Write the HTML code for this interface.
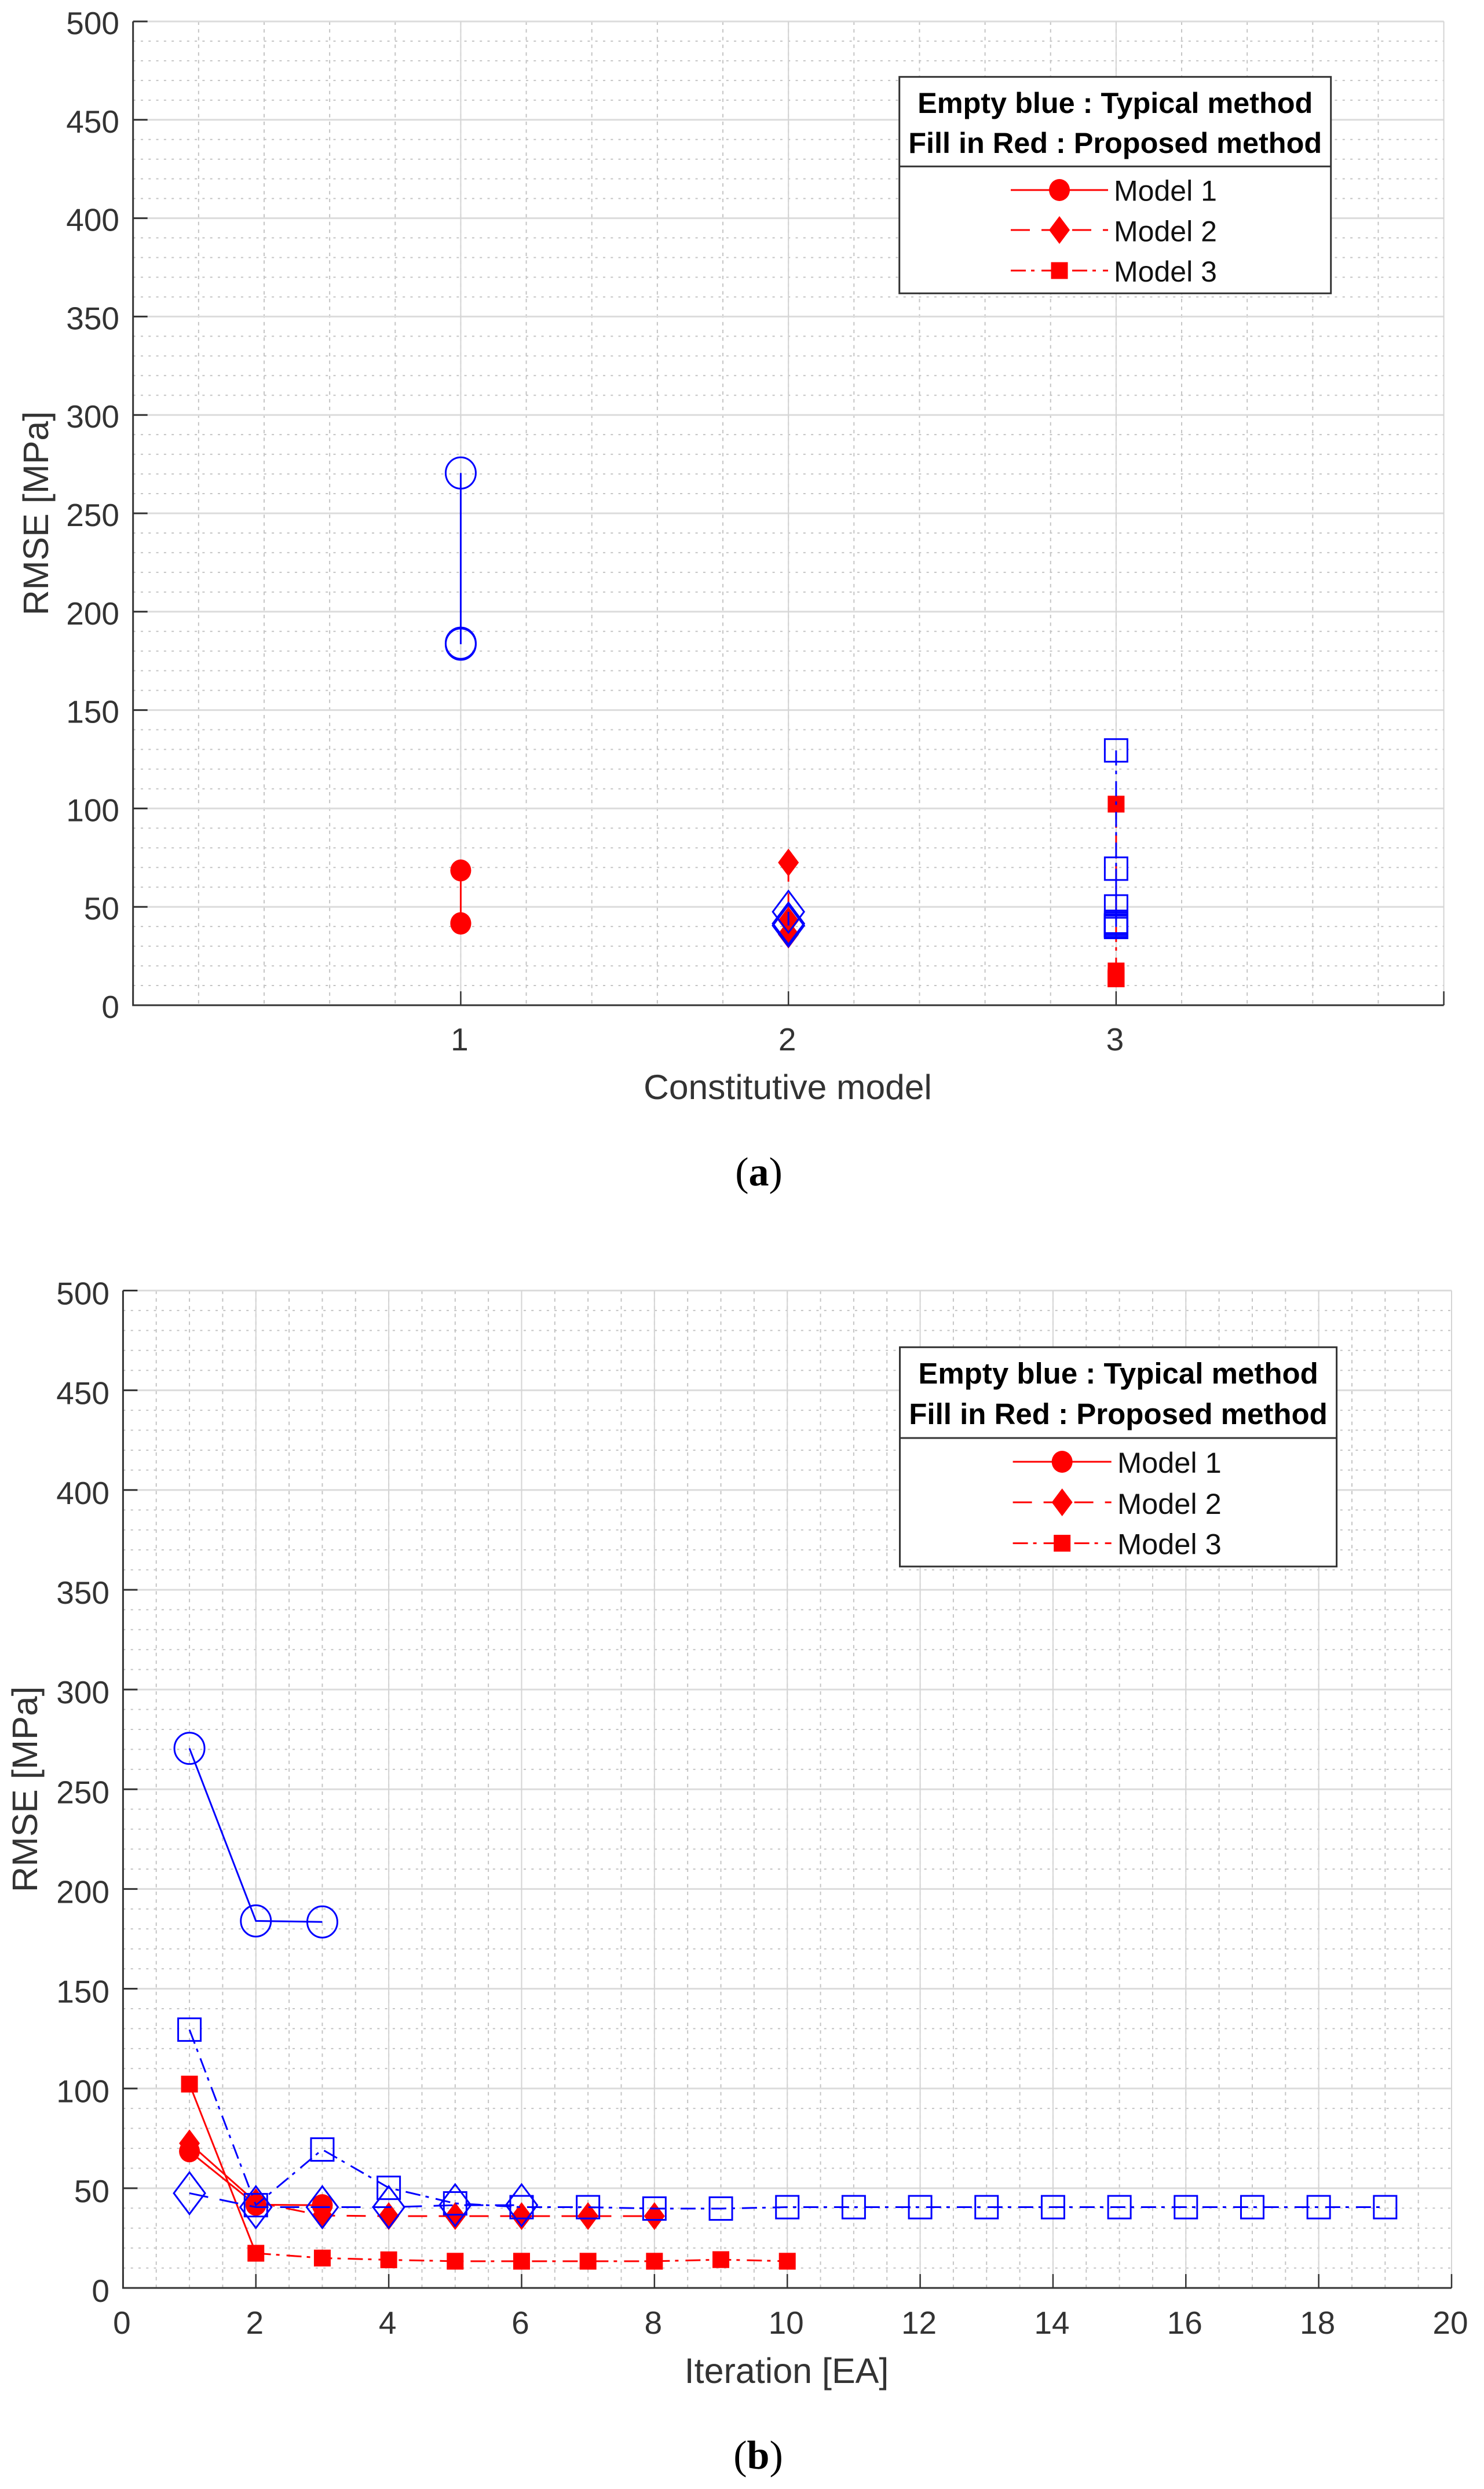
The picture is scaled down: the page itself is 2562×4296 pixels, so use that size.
<!DOCTYPE html>
<html lang="en">
<head>
<meta charset="utf-8">
<title>RMSE charts</title>
<style>
html,body{margin:0;padding:0;background:#fff;}
svg{display:block;font-family:"Liberation Sans",Arial,sans-serif;}
.tick{fill:#333;}
.cap{font-family:"Liberation Serif",serif;font-size:70px;fill:#000;}
</style>
</head>
<body>
<svg id="figure" xmlns="http://www.w3.org/2000/svg" width="2562" height="4296" viewBox="0 0 2562 4296">
<rect width="2562" height="4296" fill="#fff"/>
<g id="panel-a"></g>
<g id="panel-b"></g>
<text class="cap" x="1310" y="2046" text-anchor="middle">(<tspan font-weight="bold">a</tspan>)</text>
<text class="cap" x="1309" y="4261" text-anchor="middle">(<tspan font-weight="bold">b</tspan>)</text>
</svg>
<script>
// ---- data ----
const rmseTicks = [0, 50, 100, 150, 200, 250, 300, 350, 400, 450, 500];
const modelTicks = [0, 1, 2, 3, 4];
const modelTickLabels = ['', '1', '2', '3', ''];
const iterationTicks = [0, 2, 4, 6, 8, 10, 12, 14, 16, 18, 20];
const iterationTickLabels = ['0', '2', '4', '6', '8', '10', '12', '14', '16', '18', '20'];
const typicalModel1 = [270.5, 184, 183.5];
const typicalModel2 = [47.5, 40.5, 40.5, 40.5, 41.5, 41.5];
const typicalModel3 = [129.5, 41.5, 69.4, 50.2, 42.4, 40.5, 40.5, 39.8, 39.8, 40.5, 40.5, 40.5, 40.5, 40.5, 40.5, 40.5, 40.5, 40.5, 40.5];
const proposedModel1 = [68.5, 41.7, 41.5];
const proposedModel2 = [72.5, 43, 36.3, 36, 36, 36, 36, 36];
const proposedModel3 = [102.2, 17.4, 15, 14.1, 13.4, 13.4, 13.4, 13.4, 14.2, 13.4];
const legendEntries = ['Model 1', 'Model 2', 'Model 3'];
const legendTitleLines = ['Empty blue : Typical method', 'Fill in Red : Proposed method'];

// ---- helpers ----
const NS = 'http://www.w3.org/2000/svg';
const DASHED = '33 20';
const DASHDOT = '26 9 6 12';
function make(tag, attrs, parent) {
  const el = document.createElementNS(NS, tag);
  for (const k in attrs) el.setAttribute(k, attrs[k]);
  parent.appendChild(el);
  return el;
}
function marker(parent, kind, color, filled, cx, cy) {
  let el;
  const fill = filled ? color : 'none';
  const sw = filled ? 0 : 3;
  if (kind === 'circle') {
    el = make('ellipse', {cx: cx, cy: cy, rx: filled ? 18 : 26, ry: filled ? 19 : 27, fill: fill, stroke: color, 'stroke-width': sw}, parent);
  } else if (kind === 'diamond') {
    const hw = filled ? 18 : 27, hh = filled ? 24 : 36;
    el = make('polygon', {points: [cx, cy - hh, cx + hw, cy, cx, cy + hh, cx - hw, cy].join(' '), fill: fill, stroke: color, 'stroke-width': sw}, parent);
  } else {
    const s = filled ? 29 : 39;
    el = make('rect', {x: cx - s / 2, y: cy - s / 2, width: s, height: s, fill: fill, stroke: color, 'stroke-width': sw}, parent);
  }
  return el;
}
function drawSeries(parent, name, values, xFn, yFn, color, dash, kind, filled, solidFirst) {
  const g = make('g', {}, parent);
  
  
  const pts = values.map(function (v, i) { return [xFn(i), yFn(v)]; });
  if (solidFirst && pts.length > 1) {
    const first = make('line', {x1: pts[0][0], y1: pts[0][1], x2: pts[1][0], y2: pts[1][1], stroke: color, 'stroke-width': 3}, g);
    
    
  }
  const rest = solidFirst ? pts.slice(1) : pts;
  const line = make('polyline', {points: rest.map(function (p) { return p.join(','); }).join(' '), fill: 'none', stroke: color, 'stroke-width': 3}, g);
  if (dash) line.setAttribute('stroke-dasharray', dash);
  
  
  pts.forEach(function (p) {
    const m = marker(g, kind, color, filled, p[0], p[1]);
    
    
  });
}
function drawPanel(cfg) {
  const root = document.getElementById(cfg.id);
  const xScale = function (v) { return cfg.left + (v - cfg.xMin) / (cfg.xMax - cfg.xMin) * (cfg.right - cfg.left); };
  const yScale = function (v) { return cfg.bottom - v / 500 * (cfg.bottom - cfg.top); };

  // minor grid
  for (let v = 10; v < 500; v += 10) {
    if (v % 50 === 0) continue;
    const l = make('line', {x1: cfg.left, x2: cfg.right, y1: yScale(v), y2: yScale(v), stroke: '#c4c4c4', 'stroke-width': 2, 'stroke-dasharray': '4 9.3'}, root);
    
    
  }
  const minorCount = Math.round((cfg.xMax - cfg.xMin) / cfg.xMinorStep);
  for (let i = 1; i < minorCount; i++) {
    const v = cfg.xMin + i * cfg.xMinorStep;
    const l = make('line', {x1: xScale(v), x2: xScale(v), y1: cfg.top, y2: cfg.bottom, stroke: '#c4c4c4', 'stroke-width': 2, 'stroke-dasharray': '6 7.3'}, root);
    
    
  }
  // major grid
  rmseTicks.forEach(function (v) {
    const l = make('line', {x1: cfg.left, x2: cfg.right, y1: yScale(v), y2: yScale(v), stroke: '#dcdcdc', 'stroke-width': 3}, root);
    
    
  });
  cfg.xTicks.forEach(function (v) {
    const l = make('line', {x1: xScale(v), x2: xScale(v), y1: cfg.top, y2: cfg.bottom, stroke: '#d4d4d4', 'stroke-width': 2}, root);
    
    
  });
  // ticks + labels
  rmseTicks.forEach(function (v) {
    const t = make('line', {x1: cfg.left, x2: cfg.left + 25, y1: yScale(v), y2: yScale(v), stroke: '#333', 'stroke-width': 3}, root);
    
    
    const lb = make('text', {x: cfg.yLabelRight, y: yScale(v) + cfg.yLabelDy, 'text-anchor': 'end', class: 'tick', 'font-size': 55}, root);
    lb.textContent = String(v);
    
    
  });
  cfg.xTicks.forEach(function (v, i) {
    const t = make('line', {x1: xScale(v), x2: xScale(v), y1: cfg.bottom, y2: cfg.bottom - 24, stroke: '#333', 'stroke-width': 2.5}, root);
    
    
    if (cfg.xTickLabels[i] !== '') {
      const lb = make('text', {x: xScale(v) - 2, y: cfg.xLabelBaseline, 'text-anchor': 'middle', class: 'tick', 'font-size': 55}, root);
      lb.textContent = cfg.xTickLabels[i];
      
      
    }
  });
  // axes
  const ax = make('path', {d: 'M' + cfg.left + ' ' + cfg.top + 'V' + cfg.bottom + 'H' + cfg.right, fill: 'none', stroke: '#333', 'stroke-width': 3}, root);
  
  
  // axis titles
  const xt = make('text', {x: cfg.xTitleX, y: cfg.xTitleY, 'text-anchor': 'middle', fill: '#333', 'font-size': cfg.titleSize}, root);
  xt.textContent = cfg.xTitle;
  
  
  const yc = (cfg.top + cfg.bottom) / 2;
  const yt = make('text', {x: 0, y: 0, transform: 'translate(' + cfg.yTitleX + ' ' + yc + ') rotate(-90)', 'text-anchor': 'middle', fill: '#333', 'font-size': cfg.titleSize + 0.5}, root);
  yt.textContent = 'RMSE [MPa]';
  
  
  // series: red first, blue on top
  const xOf = function (modelNo) { return cfg.byModel ? function () { return xScale(modelNo); } : function (i) { return xScale(i + 1); }; };
  const solid = !cfg.byModel;
  drawSeries(root, 'proposed-model-1', proposedModel1, xOf(1), yScale, '#f00', null, 'circle', true, false);
  drawSeries(root, 'proposed-model-2', proposedModel2, xOf(2), yScale, '#f00', DASHED, 'diamond', true, solid);
  drawSeries(root, 'proposed-model-3', proposedModel3, xOf(3), yScale, '#f00', DASHDOT, 'square', true, solid);
  drawSeries(root, 'typical-model-1', typicalModel1, xOf(1), yScale, '#00f', null, 'circle', false, false);
  drawSeries(root, 'typical-model-2', typicalModel2, xOf(2), yScale, '#00f', DASHED, 'diamond', false, false);
  drawSeries(root, 'typical-model-3', typicalModel3, xOf(3), yScale, '#00f', DASHDOT, 'square', false, false);
  // legend
  const L = cfg.legend;
  const lg = make('g', {}, root);
  
  
  const box = make('rect', {x: L.left, y: L.top, width: L.right - L.left, height: L.bottom - L.top, fill: '#fff', stroke: '#333', 'stroke-width': 3}, lg);
  
  
  const sep = make('line', {x1: L.left, x2: L.right, y1: L.sep, y2: L.sep, stroke: '#333', 'stroke-width': 3}, lg);
  
  
  legendTitleLines.forEach(function (s, i) {
    const t = make('text', {x: (L.left + L.right) / 2, y: L.titleY[i], 'text-anchor': 'middle', 'font-weight': 'bold', fill: '#000', 'font-size': L.titleSize}, lg);
    t.textContent = s;
    
    
  });
  const dashes = [null, DASHED, DASHDOT];
  const kinds = ['circle', 'diamond', 'square'];
  legendEntries.forEach(function (s, i) {
    const sample = make('line', {x1: L.lineX1, x2: L.lineX2, y1: L.rowY[i], y2: L.rowY[i], stroke: '#f00', 'stroke-width': 3}, lg);
    if (dashes[i]) sample.setAttribute('stroke-dasharray', dashes[i]);
    
    
    const m = marker(lg, kinds[i], '#f00', true, (L.lineX1 + L.lineX2) / 2, L.rowY[i]);
    
    
    const t = make('text', {x: L.textX, y: L.rowBase[i], fill: '#111', 'font-size': L.entrySize}, lg);
    t.textContent = s;
    
    
  });
}
drawPanel({
  id: 'panel-a', byModel: true, left: 229.7, right: 2492.6, top: 37, bottom: 1735,
  xMin: 0, xMax: 4, xMinorStep: 0.2, xTicks: modelTicks, xTickLabels: modelTickLabels,
  yLabelRight: 206, yLabelDy: 22, xLabelBaseline: 1813,
  xTitle: 'Constitutive model', xTitleX: 1360, xTitleY: 1897, yTitleX: 83, titleSize: 60.5,
  legend: {left: 1552.7, right: 2297.7, top: 132.7, bottom: 506.3, sep: 287.3,
    titleSize: 50.4, titleY: [195, 264], rowY: [328, 397, 467], rowBase: [346.7, 416.7, 486],
    lineX1: 1745, lineX2: 1913, textX: 1923, entrySize: 50}
});
drawPanel({
  id: 'panel-b', byModel: false, left: 212.4, right: 2506, top: 2227.5, bottom: 3949,
  xMin: 0, xMax: 20, xMinorStep: 0.5, xTicks: iterationTicks, xTickLabels: iterationTickLabels,
  yLabelRight: 189, yLabelDy: 24, xLabelBaseline: 4028,
  xTitle: 'Iteration [EA]', xTitleX: 1358, xTitleY: 4113, yTitleX: 64, titleSize: 61,
  legend: {left: 1553.5, right: 2307.6, top: 2325.3, bottom: 2703.8, sep: 2482,
    titleSize: 51, titleY: [2388, 2458], rowY: [2523, 2593, 2663.6], rowBase: [2542, 2613, 2682.7],
    lineX1: 1748.6, lineX2: 1918.7, textX: 1929, entrySize: 50.5}
});
</script>
</body>
</html>
